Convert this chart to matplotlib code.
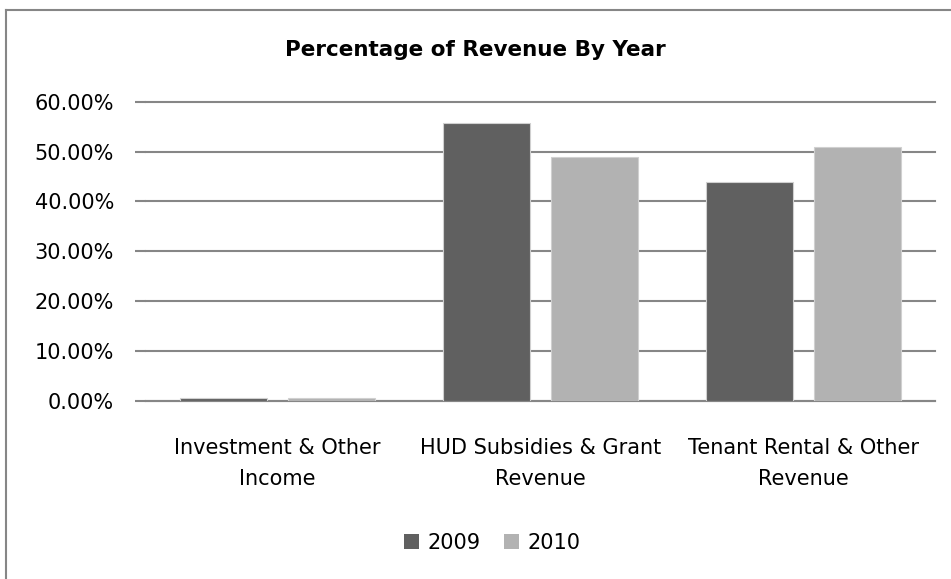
import matplotlib
matplotlib.use("Agg")
import matplotlib.pyplot as plt
import numpy as np
from matplotlib.ticker import FuncFormatter, MultipleLocator
from matplotlib.lines import Line2D
from matplotlib.patches import Patch

categories = ["Investment & Other\nIncome", "HUD Subsidies & Grant\nRevenue", "Tenant Rental & Other\nRevenue"]
series_names = ["2009", "2010"]
values_2009 = [0.006, 0.558, 0.439]
values_2010 = [0.005, 0.490, 0.510]
colors = ["#606060", "#b2b2b2"]

plt.rcParams['font.family'] = ['DejaVu Sans']
W, H = 951, 579
fig = plt.figure(figsize=(W / 100, H / 100), dpi=100)

# chart border (top and left visible)
fig.add_artist(Line2D([6 / W, 1.0], [1 - 10 / H, 1 - 10 / H], color="#868686", lw=1.5, transform=fig.transFigure))
fig.add_artist(Line2D([6 / W, 6 / W], [0, 1 - 10 / H], color="#868686", lw=1.5, transform=fig.transFigure))

left, right = 146 / W, 935 / W
bottom, top = 1 - 400.7 / H, 1 - 101.7 / H
ax = fig.add_axes([left, bottom, right - left, top - bottom])

x = np.arange(len(categories))
bw = 0.331
off = 0.207
ax.bar(x - off, values_2009, width=bw, color=colors[0], edgecolor="#d0d0d0", linewidth=0.8, zorder=3)
ax.bar(x + off, values_2010, width=bw, color=colors[1], edgecolor="#d0d0d0", linewidth=0.8, zorder=3)

ax.set_xlim(-0.5, len(categories) - 0.5)
ax.set_ylim(0, 0.6)
ax.yaxis.set_major_locator(MultipleLocator(0.1))
ax.yaxis.set_major_formatter(FuncFormatter(lambda v, p: f"{v*100:.2f}%"))
ax.grid(axis="y", color="#868686", linewidth=1.5, zorder=0)
ax.set_axisbelow(True)
for gl in ax.get_ygridlines():
    gl.set_clip_on(False)
for s in ["top", "right", "left"]:
    ax.spines[s].set_visible(False)
ax.spines["bottom"].set_color("#868686")
ax.spines["bottom"].set_linewidth(1.5)
ax.set_xticks(x)
ax.set_xticklabels(categories, fontsize=15, linespacing=1.65)
ax.tick_params(axis="x", length=0, pad=27)
ax.tick_params(axis="y", length=8, width=1.5, color="#868686", labelsize=15, pad=15)

fig.text(475 / W, 1 - 50 / H, "Percentage of Revenue By Year", ha="center", va="center",
         fontsize=15.5, fontweight="bold")

handles = [Patch(facecolor=colors[0]), Patch(facecolor=colors[1])]
fig.legend(handles, series_names, loc="center", bbox_to_anchor=(492 / W, 1 - 543 / H),
           ncol=2, frameon=False, fontsize=15, handlelength=0.75, handleheight=0.75,
           handletextpad=0.4, columnspacing=1.1)

fig.savefig("out.png", dpi=100)
